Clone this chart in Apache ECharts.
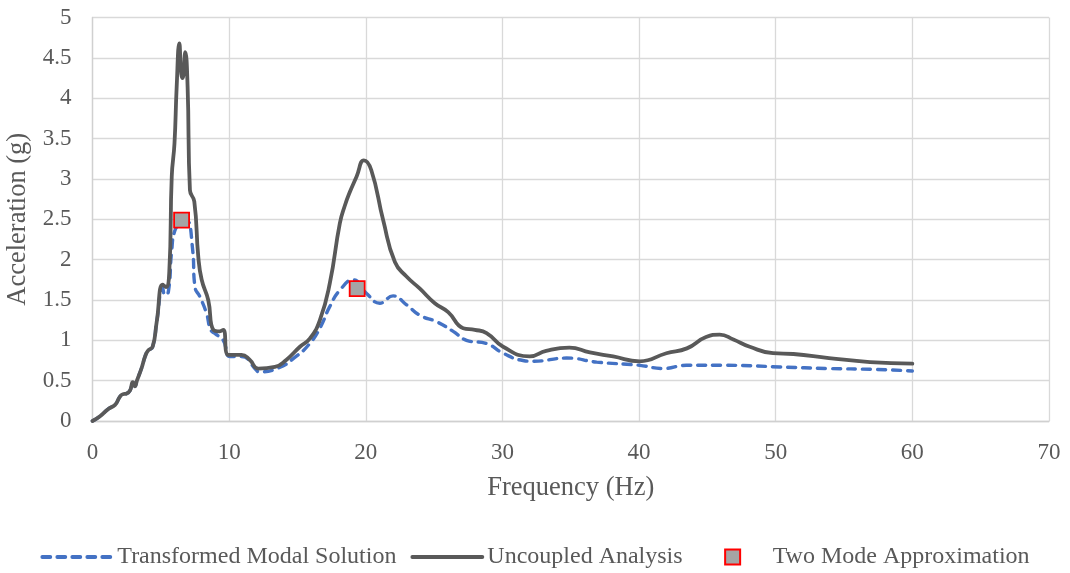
<!DOCTYPE html>
<html>
<head>
<meta charset="utf-8">
<script src="https://cdn.jsdelivr.net/npm/echarts@6/dist/echarts.min.js"></script>
<style>
html,body{margin:0;padding:0;background:#fff;}
#chart{width:1070px;height:573px;}
</style>
</head>
<body>
<div id="chart"></div>
<script>
// Uncoupled Analysis (gray solid)
const freqUncoupled = [0, 0.55, 1.16, 1.65, 2.0, 2.2, 2.5, 2.75, 2.95, 3.1, 3.25, 3.6, 3.85, 4.05, 4.4, 4.7, 5.13, 5.38, 5.62, 5.8, 6.0, 6.16, 6.35, 6.5, 6.6, 6.79, 6.96, 7.13, 7.45, 7.74, 7.99, 8.47, 8.84, 9.3, 9.57, 9.94, 10.9, 11.5, 12.13, 13.35, 14.2, 15.18, 15.9, 16.64, 17.37, 18.1, 18.47, 18.84, 19.33, 19.86, 20.4, 21.27, 22.13, 22.98, 23.96, 25.05, 26.03, 27.13, 27.98, 28.84, 30.05, 32.0, 33.2, 34.9, 36.4, 38.1, 40.05, 42.0, 43.5, 44.9, 45.9, 46.9, 48.1, 49.8, 51.3, 53.9, 56.9, 60.0];
const accUncoupled = [0, 0.06, 0.15, 0.2, 0.3, 0.33, 0.34, 0.38, 0.48, 0.43, 0.5, 0.66, 0.8, 0.87, 0.92, 1.23, 1.69, 1.66, 1.85, 3.03, 3.44, 4.14, 4.68, 4.3, 4.25, 4.57, 4.14, 2.86, 2.72, 2.04, 1.75, 1.5, 1.13, 1.11, 1.13, 0.82, 0.82, 0.76, 0.65, 0.67, 0.76, 0.92, 1.02, 1.25, 1.71, 2.45, 2.67, 2.84, 3.03, 3.23, 3.11, 2.49, 1.97, 1.79, 1.64, 1.46, 1.35, 1.15, 1.13, 1.09, 0.92, 0.8, 0.87, 0.91, 0.85, 0.8, 0.74, 0.84, 0.9, 1.04, 1.07, 1.01, 0.92, 0.84, 0.83, 0.78, 0.73, 0.71];

// Transformed Modal Solution (blue dashed)
const freqTransformed = [0, 0.55, 1.16, 1.65, 2.0, 2.2, 2.5, 2.75, 2.95, 3.1, 3.25, 3.6, 3.85, 4.05, 4.4, 4.7, 5.13, 5.3, 5.55, 5.79, 6.03, 6.4, 6.89, 7.0, 7.33, 7.5, 7.86, 8.35, 8.65, 9.0, 9.57, 10.06, 10.9, 12.0, 12.13, 13.5, 14.9, 15.9, 16.64, 17.37, 18.1, 19.08, 20.06, 21.03, 22.0, 22.98, 23.96, 25.18, 26.4, 27.37, 28.84, 30.05, 31.5, 32.25, 34.7, 36.9, 40.05, 41.75, 43.46, 46.4, 50.3, 53.9, 57.1, 60.0];
const accTransformed = [0, 0.06, 0.15, 0.2, 0.3, 0.33, 0.34, 0.38, 0.48, 0.43, 0.5, 0.66, 0.8, 0.87, 0.92, 1.23, 1.65, 1.56, 1.6, 2.1, 2.36, 2.42, 2.42, 2.47, 2.12, 1.66, 1.54, 1.33, 1.13, 1.08, 1.0, 0.8, 0.8, 0.63, 0.61, 0.65, 0.8, 0.96, 1.15, 1.42, 1.62, 1.75, 1.58, 1.46, 1.55, 1.44, 1.31, 1.23, 1.11, 1.0, 0.96, 0.84, 0.75, 0.74, 0.78, 0.73, 0.69, 0.65, 0.69, 0.69, 0.67, 0.65, 0.64, 0.62];

// Two Mode Approximation (markers)
const freqTwoMode = [6.52, 19.37];
const accTwoMode = [2.49, 1.64];

const xTicks = [0, 10, 20, 30, 40, 50, 60, 70];
const yTicks = [0, 0.5, 1, 1.5, 2, 2.5, 3, 3.5, 4, 4.5, 5];

const seriesNames = ['Transformed Modal Solution', 'Uncoupled Analysis', 'Two Mode Approximation'];

const pairs = (xs, ys) => xs.map((x, i) => [x, ys[i]]);
const FONT = "'Liberation Serif', 'Times New Roman', serif";
const TXT = '#595959';

const chart = echarts.init(document.getElementById('chart'), null, {renderer: 'canvas'});
chart.setOption({
  animation: false,
  backgroundColor: '#ffffff',
  grid: {left: 92.5, right: 21, top: 17.5, bottom: 152, containLabel: false, outerBoundsMode: 'none'},
  legend: {
    data: [
      {name: seriesNames[0], itemStyle: {opacity: 0}},
      {name: seriesNames[1], itemStyle: {opacity: 0}},
      {name: seriesNames[2], icon: 'path://M0,0M70,15M27.5,0H42.5V15H27.5Z'}
    ],
    top: 540,
    left: 'center',
    itemWidth: 70,
    itemHeight: 15,
    itemGap: 14,
    lineStyle: {width: 3.8},
    textStyle: {fontFamily: FONT, fontSize: 24, color: TXT}
  },
  xAxis: {
    type: 'value',
    min: xTicks[0],
    max: xTicks[xTicks.length - 1],
    interval: 10,
    name: 'Frequency (Hz)',
    nameLocation: 'middle',
    nameGap: 54,
    nameTextStyle: {fontFamily: FONT, fontSize: 26.5, color: TXT},
    axisLine: {show: true, lineStyle: {color: '#d0d0d0', width: 1.3}},
    axisTick: {show: false},
    axisLabel: {fontFamily: FONT, fontSize: 23, color: TXT, margin: 20},
    splitLine: {show: true, lineStyle: {color: '#d9d9d9', width: 1.3}}
  },
  yAxis: {
    type: 'value',
    min: yTicks[0],
    max: yTicks[yTicks.length - 1],
    interval: 0.5,
    name: 'Acceleration (g)',
    nameLocation: 'middle',
    nameGap: 50,
    nameTextStyle: {fontFamily: FONT, fontSize: 26.5, color: TXT},
    axisLine: {show: true, lineStyle: {color: '#d0d0d0', width: 1.3}},
    axisTick: {show: false},
    axisLabel: {fontFamily: FONT, fontSize: 23, color: TXT, margin: 21},
    splitLine: {show: true, lineStyle: {color: '#d9d9d9', width: 1.3}}
  },
  series: [
    {
      name: seriesNames[0],
      type: 'line',
      data: pairs(freqTransformed, accTransformed),
      smooth: 0.5,
      symbol: 'none',
      lineStyle: {color: '#4472C4', width: 3.4, type: [8, 7], cap: 'round'},
      itemStyle: {color: '#4472C4'},
      z: 2
    },
    {
      name: seriesNames[1],
      type: 'line',
      data: pairs(freqUncoupled, accUncoupled),
      smooth: 0.5,
      symbol: 'none',
      lineStyle: {color: '#595959', width: 3.8, cap: 'round', join: 'round'},
      itemStyle: {color: '#595959'},
      z: 3
    },
    {
      name: seriesNames[2],
      type: 'scatter',
      data: pairs(freqTwoMode, accTwoMode),
      symbol: 'rect',
      symbolSize: 15,
      itemStyle: {color: '#A5A5A5', borderColor: '#FF0000', borderWidth: 1.8, opacity: 1},
      z: 4
    }
  ]
});
</script>
</body>
</html>
